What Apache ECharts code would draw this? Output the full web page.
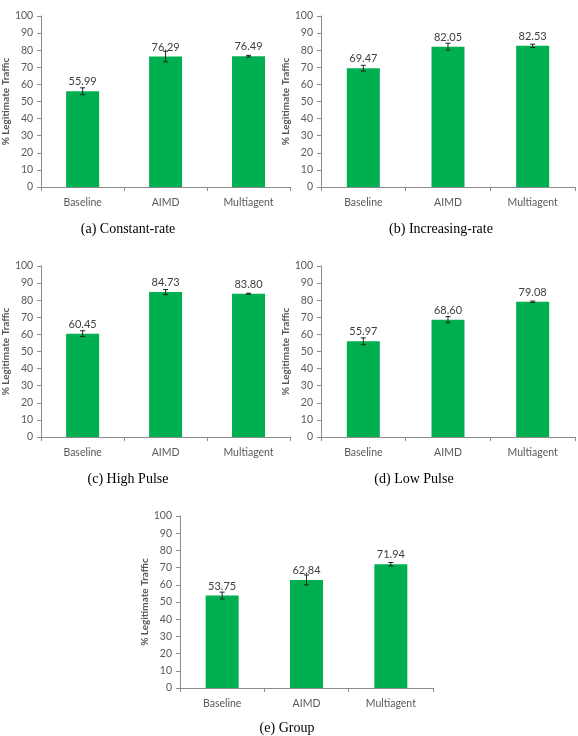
<!DOCTYPE html>
<html>
<head>
<meta charset="utf-8">
<script src="https://cdn.jsdelivr.net/npm/echarts@6/dist/echarts.min.js"></script>
<style>
  html, body { margin: 0; padding: 0; background: #fff; }
  #chart { width: 578px; height: 736px; }
</style>
</head>
<body>
<div id="chart"></div>
<script>
// categories and tick labels
const categories = ['Baseline', 'AIMD', 'Multiagent'];
const yTicks = [0, 10, 20, 30, 40, 50, 60, 70, 80, 90, 100];

// % legitimate traffic per scenario
const constantRate = [55.99, 76.29, 76.49];
const increasingRate = [69.47, 82.05, 82.53];
const highPulse = [60.45, 84.73, 83.80];
const lowPulse = [55.97, 68.60, 79.08];
const group = [53.75, 62.84, 71.94];

// error bar half-widths
const constantRateErr = [2.0, 3.1, 0.5];
const increasingRateErr = [1.7, 2.0, 1.0];
const highPulseErr = [1.7, 1.5, 0.3];
const lowPulseErr = [2.0, 1.8, 0.4];
const groupErr = [2.0, 2.9, 1.0];

const captions = ['(a) Constant-rate', '(b) Increasing-rate', '(c) High Pulse', '(d) Low Pulse', '(e) Group'];

const panels = [
  { values: constantRate, err: constantRateErr, grid: { left: 37, top: 16, width: 253, height: 171 }, cap: [128, 229] },
  { values: increasingRate, err: increasingRateErr, grid: { left: 321, top: 16, width: 254, height: 171 }, cap: [441, 229] },
  { values: highPulse, err: highPulseErr, grid: { left: 37, top: 266, width: 253, height: 171 }, cap: [128, 479] },
  { values: lowPulse, err: lowPulseErr, grid: { left: 321, top: 266, width: 254, height: 171 }, cap: [414, 479] },
  { values: group, err: groupErr, grid: { left: 180, top: 516, width: 253, height: 172 }, cap: [287, 728] }
];

const font = 'Lato, "Open Sans", sans-serif';
const axisColor = '#8c8c8c';
const textColor = '#595959';

let grids = [], xAxes = [], yAxes = [], series = [], graphics = [];

panels.forEach((p, i) => {
  grids.push(Object.assign({ containLabel: false }, p.grid));
  xAxes.push({
    type: 'category',
    gridIndex: i,
    data: categories,
    axisLine: { lineStyle: { color: axisColor, width: 1 } },
    axisTick: { show: true, length: 4, lineStyle: { color: axisColor } },
    axisLabel: { color: textColor, fontFamily: font, fontSize: 10.5, margin: 10 }
  });
  yAxes.push({
    type: 'value',
    gridIndex: i,
    min: yTicks[0],
    max: yTicks[yTicks.length - 1],
    interval: 10,
    name: '% Legitimate Traffic',
    nameLocation: 'middle',
    nameGap: 30,
    nameRotate: 90,
    nameTextStyle: { color: textColor, fontFamily: font, fontSize: 10, fontWeight: 'bold' },
    axisLine: { show: true, lineStyle: { color: axisColor, width: 1 } },
    axisTick: { show: true, length: 4, lineStyle: { color: axisColor } },
    axisLabel: { color: textColor, fontFamily: font, fontSize: 10.5, margin: 8 },
    splitLine: { show: false }
  });
  series.push({
    type: 'bar',
    xAxisIndex: i,
    yAxisIndex: i,
    data: p.values,
    barWidth: 33,
    itemStyle: { color: '#00B050' },
    label: {
      show: true,
      position: 'top',
      distance: 4,
      color: '#404040',
      fontFamily: font,
      fontSize: 11,
      formatter: d => d.value.toFixed(2)
    },
    z: 2
  });
  series.push({
    type: 'custom',
    xAxisIndex: i,
    yAxisIndex: i,
    data: p.values.map((v, k) => [k, v - p.err[k], v + p.err[k]]),
    renderItem: (params, api) => {
      const lo = api.coord([api.value(0), api.value(1)]);
      const hi = api.coord([api.value(0), api.value(2)]);
      const cap = 2.5;
      const style = { stroke: '#222', lineWidth: 1 };
      return {
        type: 'group',
        children: [
          { type: 'line', shape: { x1: lo[0], y1: lo[1], x2: hi[0], y2: hi[1] }, style },
          { type: 'line', shape: { x1: lo[0] - cap, y1: lo[1], x2: lo[0] + cap, y2: lo[1] }, style },
          { type: 'line', shape: { x1: hi[0] - cap, y1: hi[1], x2: hi[0] + cap, y2: hi[1] }, style }
        ]
      };
    },
    z: 3
  });
  graphics.push({
    type: 'text',
    x: p.cap[0],
    y: p.cap[1],
    style: {
      text: captions[i],
      fill: '#000',
      font: '14px "Liberation Serif", "DejaVu Serif", serif',
      textAlign: 'center',
      textVerticalAlign: 'middle'
    }
  });
});

let myChart = echarts.init(document.getElementById('chart'));
let option = {
  animation: false,
  backgroundColor: '#fff',
  grid: grids,
  xAxis: xAxes,
  yAxis: yAxes,
  series: series,
  graphic: graphics
};
option && myChart.setOption(option);
</script>
</body>
</html>
